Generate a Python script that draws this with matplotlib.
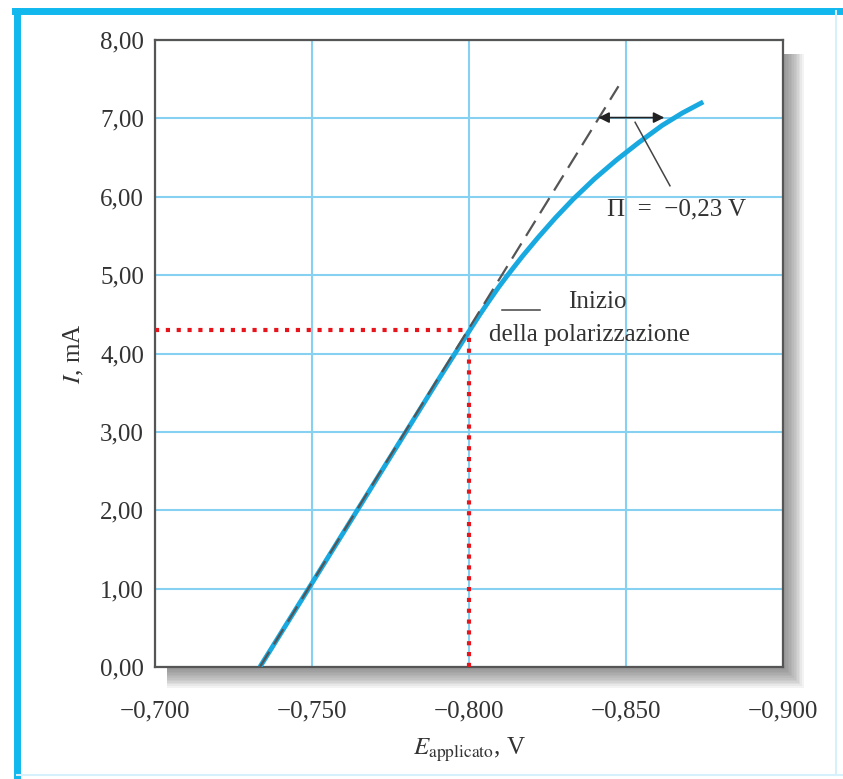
import matplotlib
matplotlib.use('Agg')
import matplotlib.pyplot as plt
from matplotlib.patches import Rectangle
from matplotlib.lines import Line2D

# polarization curve
E_curve = [-0.7334, -0.750, -0.770, -0.790, -0.7998, -0.8035, -0.8062, -0.8095,
           -0.8125, -0.817, -0.822, -0.8275, -0.8332, -0.840, -0.847, -0.854,
           -0.8615, -0.868, -0.8746]
I_curve = [0.00, 1.07, 2.36, 3.65, 4.27, 4.50, 4.66, 4.85,
           5.01, 5.24, 5.48, 5.73, 5.97, 6.23, 6.47, 6.69,
           6.91, 7.07, 7.21]

# extrapolated linear part
E_tangent = [-0.7334, -0.8476]
I_tangent = [0.0, 7.41]

# onset of polarization
E_onset = -0.800
I_onset = 4.30

x_ticks = [-0.700, -0.750, -0.800, -0.850, -0.900]
x_labels = ['\u22120,700', '\u22120,750', '\u22120,800', '\u22120,850', '\u22120,900']
y_ticks = [0, 1, 2, 3, 4, 5, 6, 7, 8]
y_labels = ['0,00', '1,00', '2,00', '3,00', '4,00', '5,00', '6,00', '7,00', '8,00']

plt.rcParams['font.family'] = ['Liberation Serif', 'DejaVu Serif']
plt.rcParams['mathtext.fontset'] = 'stix'

txt = '#333333'
grid_c = '#86d1f2'
blue = '#18a9e0'
fs = 18

fig = plt.figure(figsize=(8.43, 7.79), dpi=100)
W, H = 843.0, 779.0

# outer cyan frame
fig.add_artist(Line2D([17 / W, 17 / W], [0, 1 - 11 / H], color='#10b8ee', lw=5, transform=fig.transFigure))
fig.add_artist(Line2D([15 / W, 1], [1 - 11 / H, 1 - 11 / H], color='#10b8ee', lw=5, transform=fig.transFigure))
fig.add_artist(Line2D([836 / W, 836 / W], [4 / H, 1 - 11 / H], color='#d6f1fb', lw=1.5, transform=fig.transFigure))
fig.add_artist(Line2D([17 / W, 1], [4 / H, 4 / H], color='#d6f1fb', lw=1.5, transform=fig.transFigure))

l, r, t, b = 155, 783, 40, 667
ax = fig.add_axes([l / W, 1 - b / H, (r - l) / W, (b - t) / H])

# soft drop shadow behind the plot box
for k in range(12):
    d = 3 + k * 1.6
    fig.add_artist(Rectangle(((l + 12) / W, 1 - (b + d) / H),
                             (r - l - 12 + d) / W, (b - t - 14 + d) / H,
                             transform=fig.transFigure, facecolor='#5a5a5a',
                             edgecolor='none', alpha=0.07, zorder=0))

ax.set_zorder(2)
ax.set_facecolor('white')

ax.plot(E_curve, I_curve, color=blue, lw=3.5, solid_capstyle='butt',
        solid_joinstyle='round', zorder=4)
ax.plot(E_tangent, I_tangent, color='#555555', lw=1.6, dashes=(8, 4), zorder=5)

ax.plot([-0.700, E_onset], [I_onset, I_onset], color='#e8141c', lw=3, ls=(0, (1, 1.6)), zorder=3)
ax.plot([E_onset, E_onset], [0, I_onset], color='#e8141c', lw=3, ls=(0, (1, 1.6)), zorder=3)

# overpotential arrow
ax.annotate('', xy=(-0.8412, 7.01), xytext=(-0.8622, 7.01),
            arrowprops=dict(arrowstyle='<|-|>', color='#222222', lw=1.2,
                            mutation_scale=16, shrinkA=0, shrinkB=0), zorder=6)
ax.plot([-0.8529, -0.8640], [6.95, 6.14], color='#444444', lw=1.1, zorder=6)
ax.text(-0.8440, 5.84, '\u03a0  =  \u22120,23 V', fontsize=fs, color=txt, va='center', ha='left', zorder=6)

ax.plot([-0.8105, -0.8227], [4.56, 4.56], color='#444444', lw=1.1, zorder=6)
ax.text(-0.8315, 4.66, 'Inizio', fontsize=fs, color=txt, va='center', ha='left', zorder=6)
ax.text(-0.8063, 4.24, 'della polarizzazione', fontsize=fs, color=txt, va='center', ha='left', zorder=6)

ax.set_xlim(-0.700, -0.900)
ax.set_ylim(0, 8)
ax.set_xticks(x_ticks)
ax.set_xticklabels(x_labels)
ax.set_yticks(y_ticks)
ax.set_yticklabels(y_labels)
ax.tick_params(length=0, labelsize=fs, labelcolor=txt)
ax.tick_params(axis='x', pad=24)
ax.tick_params(axis='y', pad=8)
ax.grid(True, color=grid_c, lw=1.5)
ax.set_axisbelow(True)
for s in ax.spines.values():
    s.set_color('#555555')
    s.set_linewidth(1.6)

ax.set_xlabel(r'$E_{\mathrm{applicato}}$, V', fontsize=fs, color=txt, labelpad=10)
ax.set_ylabel(r'$I$, mA', fontsize=fs, color=txt, labelpad=10)

fig.savefig('out.png', dpi=100)
